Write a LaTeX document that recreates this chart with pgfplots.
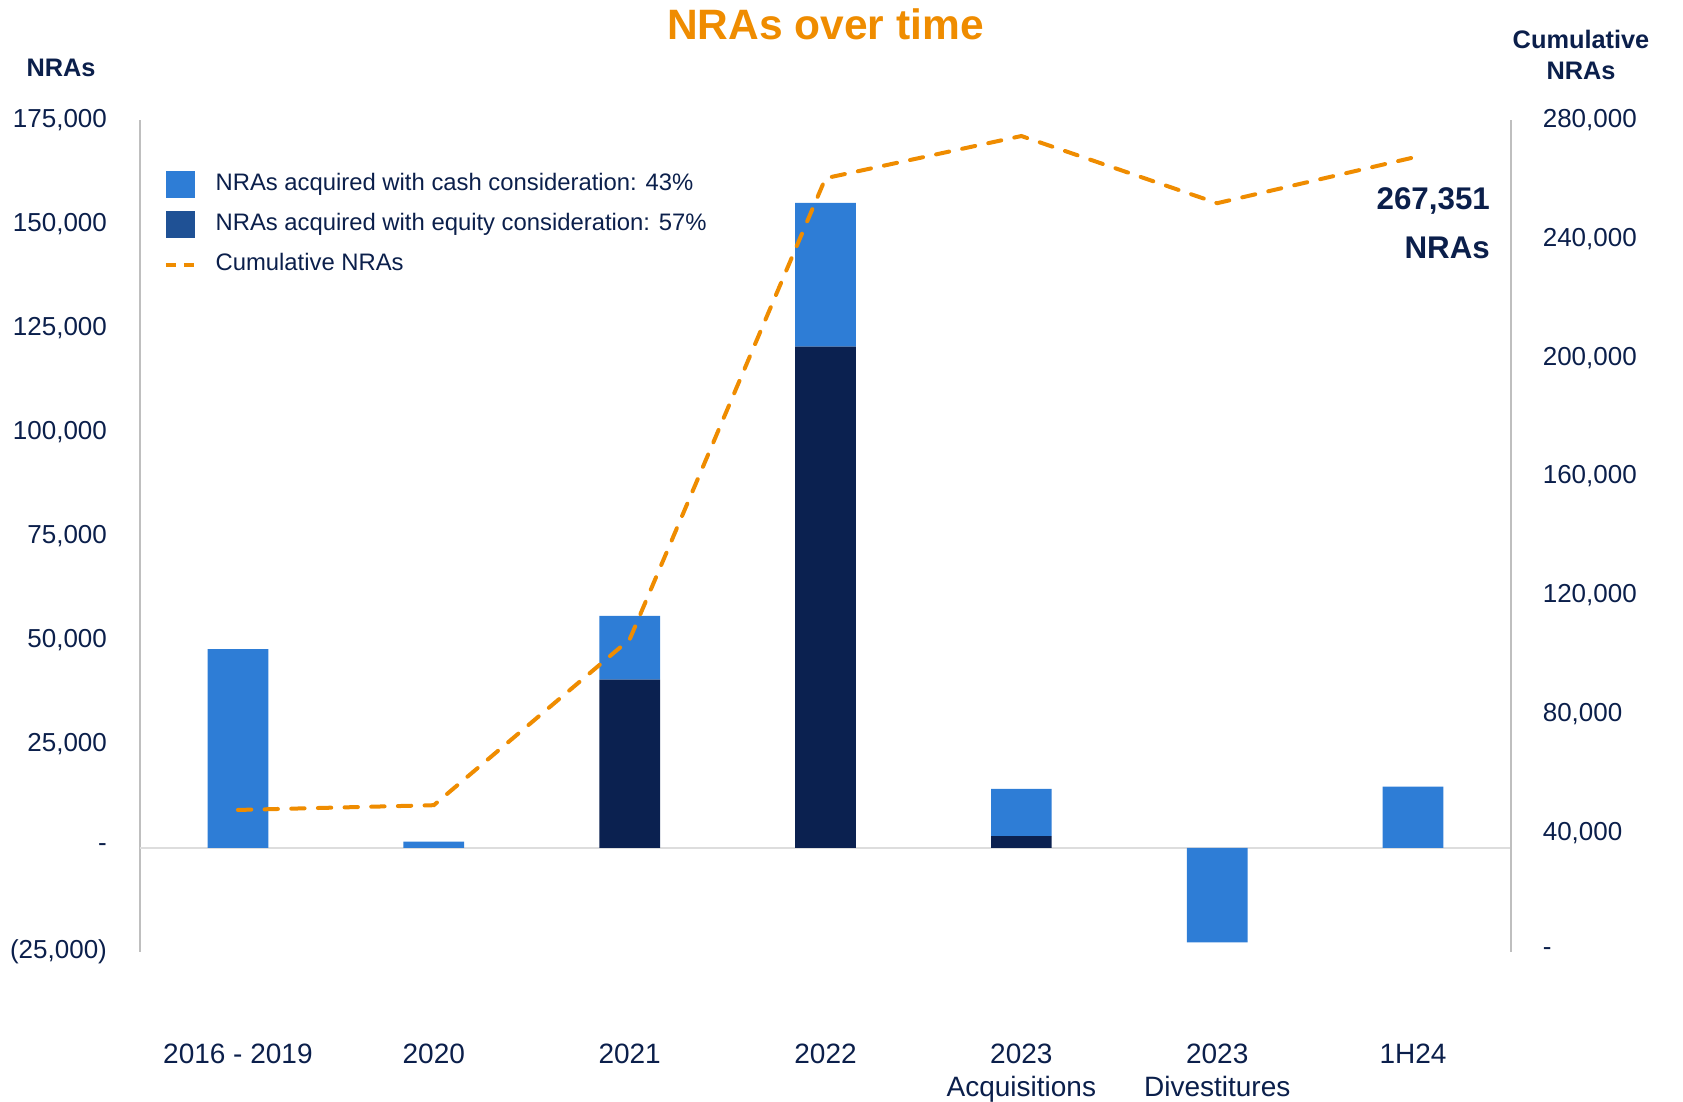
\documentclass[border=0pt]{standalone}
\usepackage{pgfplots}
\pgfplotsset{compat=1.18}
\usepackage{fontspec}
\setmainfont{Liberation Sans}

\definecolor{cashblue}{HTML}{2E7DD6}
\definecolor{equitynavy}{HTML}{0B2150}
\definecolor{equitykey}{HTML}{1F5195}
\definecolor{cumorange}{HTML}{EF8C00}
\definecolor{txt}{HTML}{0B1F4B}
\definecolor{axgray}{HTML}{BFBFBF}
\definecolor{zerogray}{HTML}{DDDDDD}

\begin{document}
\begin{tikzpicture}
\useasboundingbox (-42pt,-45pt) rectangle (462.9pt,285.6pt);

% NRAs per period (left axis)
\begin{axis}[
  name=ax,
  scale only axis, width=411.3pt, height=249.6pt,
  xmin=-0.5, xmax=6.5, ymin=-25000, ymax=175000,
  ybar stacked, bar width=0.31,
  scaled y ticks=false,
  axis x line*=bottom, x axis line style={draw=none},
  axis y line*=left, y axis line style={draw=axgray, line width=0.5pt},
  xtick={0,...,6},
  xticklabels={{2016 - 2019},{2020},{2021},{2022},{2023\\Acquisitions},{2023\\Divestitures},{1H24}},
  xticklabel style={align=center, anchor=north, yshift=-24pt,
    font=\fontsize{8.4}{10}\selectfont, text=txt},
  xtick style={draw=none}, ytick style={draw=none},
  ytick={-25000,0,...,175000},
  yticklabels={{(25,000)},{-},{25,000},{50,000},{75,000},{100,000},{125,000},{150,000},{175,000}},
  yticklabel style={anchor=east, xshift=-6.4pt, font=\fontsize{7.8}{9}\selectfont, text=txt},
  extra y ticks={0}, extra y tick labels={},
  extra y tick style={grid=major, major grid style={draw=zerogray, line width=0.7pt}, ytick style={draw=none}},
  legend style={draw=none, fill=none, at={(0.017,0.945)}, anchor=north west,
    font=\fontsize{7.15}{8}\selectfont, text=txt, row sep=1.4pt, inner sep=0pt},
  legend cell align=left,
]
\addplot[fill=equitynavy, draw=none, forget plot] coordinates {
  (0,0) (1,0) (2,40500) (3,120500) (4,2860) (5,0) (6,0)};
\addplot[fill=cashblue, draw=none, forget plot] coordinates {
  (0,47800) (1,1560) (2,15270) (3,34580) (4,11350) (5,-22690) (6,14740)};
\addlegendimage{legend image code/.code={\fill[cashblue, draw=none] (0pt,-4pt) rectangle (8.7pt,4pt); \path[draw=none, fill=none] (0pt,0pt) rectangle (12.9pt,0.1pt);}}
\addlegendentry{NRAs acquired with cash consideration: 43\%}
\addlegendimage{legend image code/.code={\fill[equitykey, draw=none] (0pt,-4pt) rectangle (8.7pt,4pt); \path[draw=none, fill=none] (0pt,0pt) rectangle (12.9pt,0.1pt);}}
\addlegendentry{NRAs acquired with equity consideration: 57\%}
\addlegendimage{legend image code/.code={\draw[cumorange, line width=1.2pt, dash pattern=on 3pt off 2.4pt] (0pt,0pt) -- (8.7pt,0pt); \path[draw=none, fill=none] (0pt,0pt) rectangle (12.9pt,0.1pt);}}
\addlegendentry{Cumulative NRAs}
\end{axis}

% cumulative NRAs (right axis)
\begin{axis}[
  scale only axis, width=411.3pt, height=249.6pt,
  xmin=-0.5, xmax=6.5, ymin=0, ymax=280000,
  scaled y ticks=false,
  hide x axis,
  axis y line*=right, y axis line style={draw=axgray, line width=0.5pt},
  ytick style={draw=none},
  ytick={0,40000,...,280000},
  yticklabels={{-},{40,000},{80,000},{120,000},{160,000},{200,000},{240,000},{280,000}},
  yticklabel style={anchor=west, xshift=6pt, font=\fontsize{7.8}{9}\selectfont, text=txt},
]
\addplot[cumorange, line width=1.2pt, line cap=round, dash pattern=on 4pt off 4pt, mark=none] coordinates {
  (0,47800) (1,49400) (2,105200) (3,260400) (4,274600) (5,252000) (6,267351)};
\end{axis}

\node[font=\fontsize{12.75}{14}\selectfont\bfseries, text=cumorange] at ([yshift=28.8pt]ax.north) {NRAs over time};
\node[font=\fontsize{7.6}{9}\selectfont\bfseries, text=txt] at ([xshift=-23.7pt,yshift=15.6pt]ax.north west) {NRAs};
\node[font=\fontsize{7.6}{9.3}\selectfont\bfseries, text=txt, align=center] at ([xshift=21pt,yshift=19.4pt]ax.north east) {Cumulative\\NRAs};
\node[font=\fontsize{9.4}{14.7}\selectfont\bfseries, text=txt, align=right, anchor=east] at ([xshift=-2.8pt,yshift=-31pt]ax.north east) {267,351\\NRAs};
\end{tikzpicture}
\end{document}
